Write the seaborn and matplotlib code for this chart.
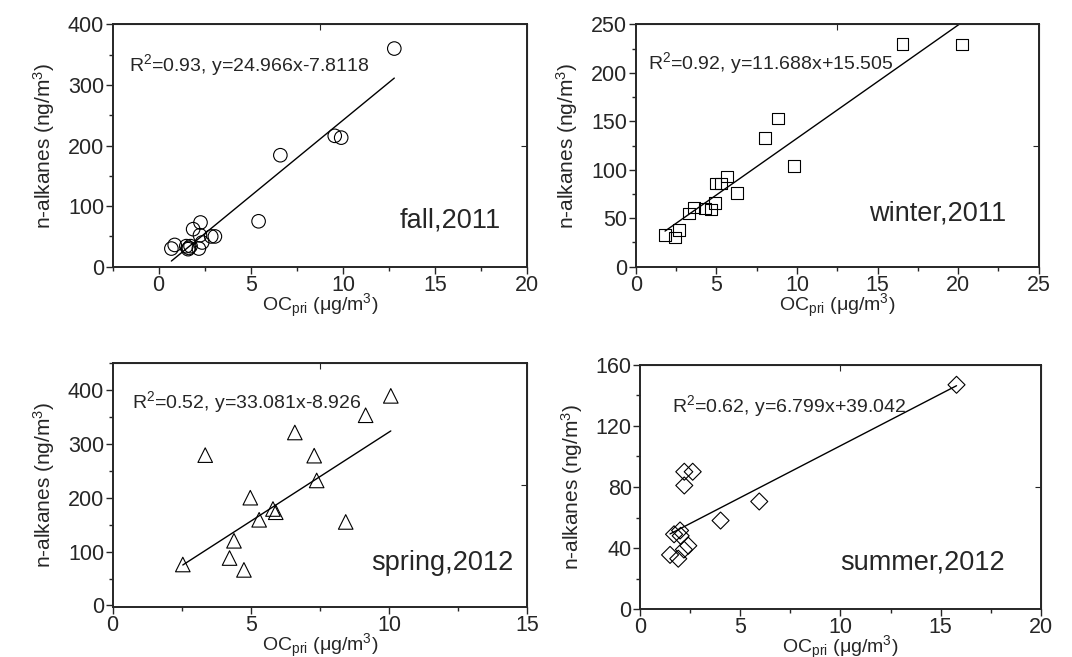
#n-alkanes vs primary OC, four seasons
import numpy as np
import pandas as pd
import matplotlib.pyplot as plt
import seaborn as sns

#fall 2011 (circles)
fall_oc = [12.78, 6.6, 9.55, 9.9, 5.42, 2.27, 1.87, 2.24, 2.85, 3.05,
           0.69, 0.87, 1.5, 1.64, 1.6, 2.18, 2.36, 1.73]
fall_alk = [360, 184, 216, 213, 75, 73, 62, 52, 50, 50,
            30, 36, 34, 31, 29, 30, 40, 34]

#winter 2011 (squares)
winter_oc = [16.54, 20.25, 8.84, 8.01, 9.83, 5.68, 4.95, 5.28, 6.3, 4.93,
             4.67, 4.29, 3.63, 3.32, 1.82, 2.44, 2.68]
winter_alk = [230, 229, 153, 133, 104, 93, 86, 86, 76, 66,
              59, 60, 61, 55, 33, 30, 38]

#spring 2012 (triangles)
spring_oc = [10.06, 9.15, 6.59, 3.35, 7.29, 7.38, 4.98, 5.8, 5.9, 5.3,
             8.43, 4.39, 4.23, 4.75, 2.54]
spring_alk = [389, 353, 321, 279, 278, 232, 200, 179, 173, 159,
              155, 120, 88, 66, 76]

#summer 2012 (diamonds)
summer_oc = [15.79, 5.95, 4.02, 2.21, 2.63, 2.21, 1.70, 2.0, 2.03, 1.5,
             1.91, 2.19, 2.41]
summer_alk = [147, 70.5, 58, 90, 90, 81, 49, 51.5, 48, 35.5,
              33, 39, 41.5]

#fit results printed on the panels
fits = {'fall': (24.966, -7.8118, '0.93', 'y=24.966x-7.8118'),
        'winter': (11.688, 15.505, '0.92', 'y=11.688x+15.505'),
        'spring': (33.081, -8.926, '0.52', 'y=33.081x-8.926'),
        'summer': (6.799, 39.042, '0.62', 'y=6.799x+39.042')}

sns.set_style("ticks")
plt.rcParams['font.family'] = ['Liberation Sans', 'DejaVu Sans']
plt.rcParams['mathtext.fontset'] = 'custom'
plt.rcParams['mathtext.rm'] = 'Liberation Sans'
plt.rcParams['mathtext.it'] = 'Liberation Sans:italic'

fig = plt.figure(figsize=(10.72, 6.57), dpi=100)
pos = {'fall': [0.105, 0.594, 0.387, 0.369],
       'winter': [0.593, 0.594, 0.376, 0.369],
       'spring': [0.105, 0.076, 0.387, 0.3715],
       'summer': [0.597, 0.073, 0.374, 0.3715]}

panels = [
    ('fall', fall_oc, fall_alk, 'o', 95, (-2.5, 20), (0, 400), 100, 50, 'fall,2011', (0.935, 0.19), (0.04, 0.83)),
    ('winter', winter_oc, winter_alk, 's', 70, (0, 25), (0, 250), 50, 25, 'winter,2011', (0.92, 0.22), (0.03, 0.84)),
    ('spring', spring_oc, spring_alk, '^', 110, (0, 15), (-3, 450), 100, 50, 'spring,2012', (0.966, 0.18), (0.048, 0.84)),
    ('summer', summer_oc, summer_alk, 'D', 75, (0, 20), (0, 160), 40, 20, 'summer,2012', (0.91, 0.19), (0.08, 0.83)),
]

for key, xs, ys, mk, sz, xl, yl, ymaj, ymin, season, spos, rpos in panels:
    ax = fig.add_axes(pos[key])
    df = pd.DataFrame({'oc': xs, 'alk': ys})
    slope, icpt, r2, eq = fits[key]
    xx = np.array([min(xs), max(xs)])
    sns.lineplot(x=xx, y=slope * xx + icpt, ax=ax, color='black', lw=1.0)
    sns.scatterplot(data=df, x='oc', y='alk', ax=ax, marker=mk, s=sz,
                    facecolor='none', edgecolor='black', linewidth=0.8, zorder=3)
    ax.set_xlim(*xl)
    ax.set_ylim(*yl)
    ax.set_xticks(np.arange(0, xl[1] + 0.1, 5))
    ax.set_xticks(np.arange(xl[0], xl[1] + 0.1, 2.5), minor=True)
    ax.set_yticks(np.arange(0, yl[1] + 0.1, ymaj))
    ax.set_yticks(np.arange(0, yl[1] + 0.1, ymin), minor=True)
    ax.tick_params(which='major', direction='out', length=5, width=1, labelsize=15.5, pad=1)
    ax.tick_params(which='minor', direction='out', length=3, width=1)
    for s in ax.spines.values():
        s.set_linewidth(1.4)
        s.set_visible(True)
    ax.set_xlabel(r'OC$_{\mathregular{pri}}$ ($\mathregular{\mu}$g/m$^3$)', fontsize=14, labelpad=-3)
    ax.set_ylabel(r'n-alkanes (ng/m$^3$)', fontsize=15, labelpad=8)
    ax.text(rpos[0], rpos[1], r'R$^2$=' + r2 + ', ' + eq, transform=ax.transAxes,
            fontsize=14, ha='left', va='center')
    ax.text(spos[0], spos[1], season, transform=ax.transAxes,
            fontsize=19.5, ha='right', va='center')
    #small ticks at the middle of top and right axes, like the original
    top = ax.secondary_xaxis('top')
    top.set_xticks([(xl[0] + xl[1]) / 2])
    top.set_xticklabels([''])
    top.tick_params(direction='in', length=4)
    right = ax.secondary_yaxis('right')
    right.set_yticks([(yl[0] + yl[1]) / 2])
    right.set_yticklabels([''])
    right.tick_params(direction='in', length=4)

plt.savefig('out.png', dpi=100)
